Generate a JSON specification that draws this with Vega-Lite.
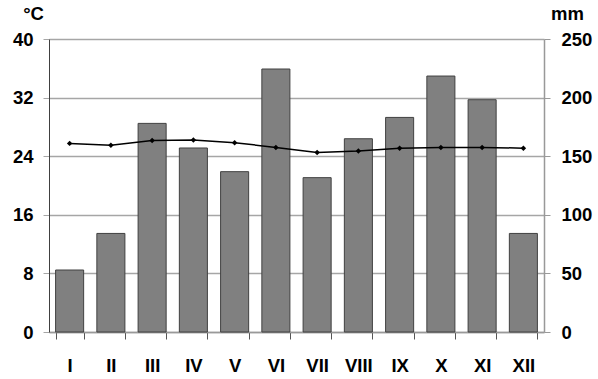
{
  "$schema": "https://vega.github.io/schema/vega-lite/v6.json",
  "width": 495,
  "height": 293,
  "autosize": "none",
  "padding": {"left": 49, "top": 39, "right": 54, "bottom": 47},
  "background": "white",
  "config": {
    "view": {"stroke": null},
    "font": "Liberation Sans",
    "axis": {"labelFont": "Liberation Sans", "labelFontWeight": "bold", "labelFontSize": 18.5, "labelColor": "black", "titleFont": "Liberation Sans", "titleFontWeight": "bold", "titleFontSize": 18.5, "titleColor": "black"}
  },
  "data": {
    "values": [
      {"month": "I", "temp": 25.75, "prec": 52.9},
      {"month": "II", "temp": 25.5, "prec": 84.1},
      {"month": "III", "temp": 26.15, "prec": 178.0},
      {"month": "IV", "temp": 26.2, "prec": 157.0},
      {"month": "V", "temp": 25.85, "prec": 136.8},
      {"month": "VI", "temp": 25.2, "prec": 224.4},
      {"month": "VII", "temp": 24.5, "prec": 131.7},
      {"month": "VIII", "temp": 24.7, "prec": 164.9},
      {"month": "IX", "temp": 25.1, "prec": 183.1},
      {"month": "X", "temp": 25.2, "prec": 218.4},
      {"month": "XI", "temp": 25.2, "prec": 198.2},
      {"month": "XII", "temp": 25.1, "prec": 84.1}
    ]
  },
  "encoding": {
    "x": {
      "field": "month", "type": "ordinal", "sort": null,
      "scale": {"paddingInner": 0.32, "paddingOuter": 0.16},
      "axis": {"title": null, "labelAngle": 0, "tickBand": "extent", "tickSize": 7, "tickColor": "#555555", "domainColor": "#999999", "domainWidth": 1.5, "labelPadding": 17, "grid": false}
    }
  },
  "layer": [
    {
      "mark": {"type": "bar", "fill": "#808080", "stroke": "#404040", "strokeWidth": 1},
      "encoding": {
        "y": {
          "field": "prec", "type": "quantitative",
          "scale": {"domain": [0, 250], "nice": false},
          "axis": {"orient": "right", "values": [0, 50, 100, 150, 200, 250], "grid": false, "tickSize": 6, "tickColor": "#999999", "domainColor": "#999999", "domainWidth": 1.5, "labelPadding": 11, "title": "mm", "titleAngle": 0, "titleX": 23, "titleY": -20, "titleAlign": "center", "titleBaseline": "alphabetic"}
        }
      }
    },
    {
      "mark": {"type": "line", "color": "black", "strokeWidth": 1.5, "point": {"filled": true, "color": "black", "size": 30, "shape": "diamond"}},
      "encoding": {
        "y": {
          "field": "temp", "type": "quantitative",
          "scale": {"domain": [0, 40], "nice": false},
          "axis": {"orient": "left", "values": [0, 8, 16, 24, 32, 40], "grid": true, "gridColor": "#a6a6a6", "gridWidth": 1.5, "tickSize": 6, "tickColor": "#a6a6a6", "domainColor": "#404040", "domainWidth": 1, "labelPadding": 10, "title": "°C", "titleAngle": 0, "titleX": -16, "titleY": -20, "titleAlign": "center", "titleBaseline": "alphabetic"}
        }
      }
    }
  ],
  "resolve": {"scale": {"y": "independent"}}
}
